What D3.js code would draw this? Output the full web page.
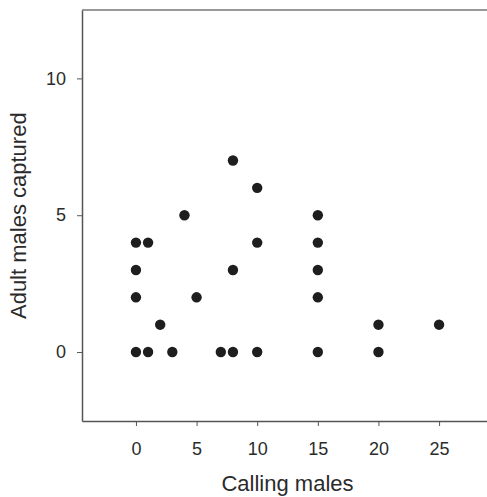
<!DOCTYPE html>
<html>
<head>
<meta charset="utf-8">
<script src="https://cdn.jsdelivr.net/npm/d3@7"></script>
<style>
    body { margin: 0; background: #fff; }
    svg text { font-family: "Liberation Sans", Arial, sans-serif; fill: #2b2b2b; }
</style>
</head>
<body>
<svg id="chart" width="487" height="497"></svg>
<script>
    "use strict";

    // calling males (x) vs adult males captured (y)
    var callingMales = [0, 0, 0, 0, 1, 1, 2, 3, 4, 5, 7, 8, 8, 8, 10, 10, 10, 15, 15, 15, 15, 15, 20, 20, 25];
    var adultsCaptured = [0, 2, 3, 4, 4, 0, 1, 0, 5, 2, 0, 0, 3, 7, 6, 4, 0, 5, 4, 3, 2, 0, 1, 0, 1];
    var xTicks = [0, 5, 10, 15, 20, 25];
    var yTicks = [0, 5, 10];

    (function () {
        var svg = d3.select("#chart");

        var frame = { left: 82, top: 10, right: 490, bottom: 421 };

        var x = d3.scaleLinear().domain([-4.45, 29.2]).range([frame.left, frame.right]);
        var y = d3.scaleLinear().domain([-2.52, 12.5]).range([frame.bottom, frame.top]);

        var xAxis = svg.append("g")
            .attr("transform", "translate(0," + frame.bottom + ")")
            .call(d3.axisBottom(x).tickValues(xTicks).tickSize(5).tickPadding(16).tickSizeOuter(0));

        var yAxis = svg.append("g")
            .attr("transform", "translate(" + frame.left + ",0)")
            .call(d3.axisLeft(y).tickValues(yTicks).tickSize(5).tickPadding(11).tickSizeOuter(0));

        [xAxis, yAxis].forEach(function (g) {
            g.attr("font-size", null).attr("font-family", null);
            g.select(".domain").attr("stroke", "#555").attr("stroke-width", 1.5);
            g.selectAll(".tick line").attr("stroke", "#555");
            g.selectAll(".tick text").style("font-size", "18px").style("fill", "#2b2b2b");
        });

        // top border of the frame
        svg.append("line")
            .attr("x1", frame.left).attr("x2", frame.right)
            .attr("y1", frame.top).attr("y2", frame.top)
            .attr("stroke", "#777")
            .attr("stroke-width", 1.5);

        svg.append("g")
            .selectAll("circle")
            .data(d3.range(callingMales.length))
            .enter()
            .append("circle")
            .attr("cx", function (i) { return x(callingMales[i]); })
            .attr("cy", function (i) { return y(adultsCaptured[i]); })
            .attr("r", 5.2)
            .attr("fill", "#1e1e1e");

        svg.append("text")
            .attr("x", 287.5)
            .attr("y", 491)
            .attr("text-anchor", "middle")
            .style("font-size", "22px")
            .text("Calling males");

        svg.append("text")
            .attr("transform", "translate(26,215.7) rotate(-90)")
            .attr("text-anchor", "middle")
            .style("font-size", "22px")
            .text("Adult males captured");
    })();
</script>
</body>
</html>
